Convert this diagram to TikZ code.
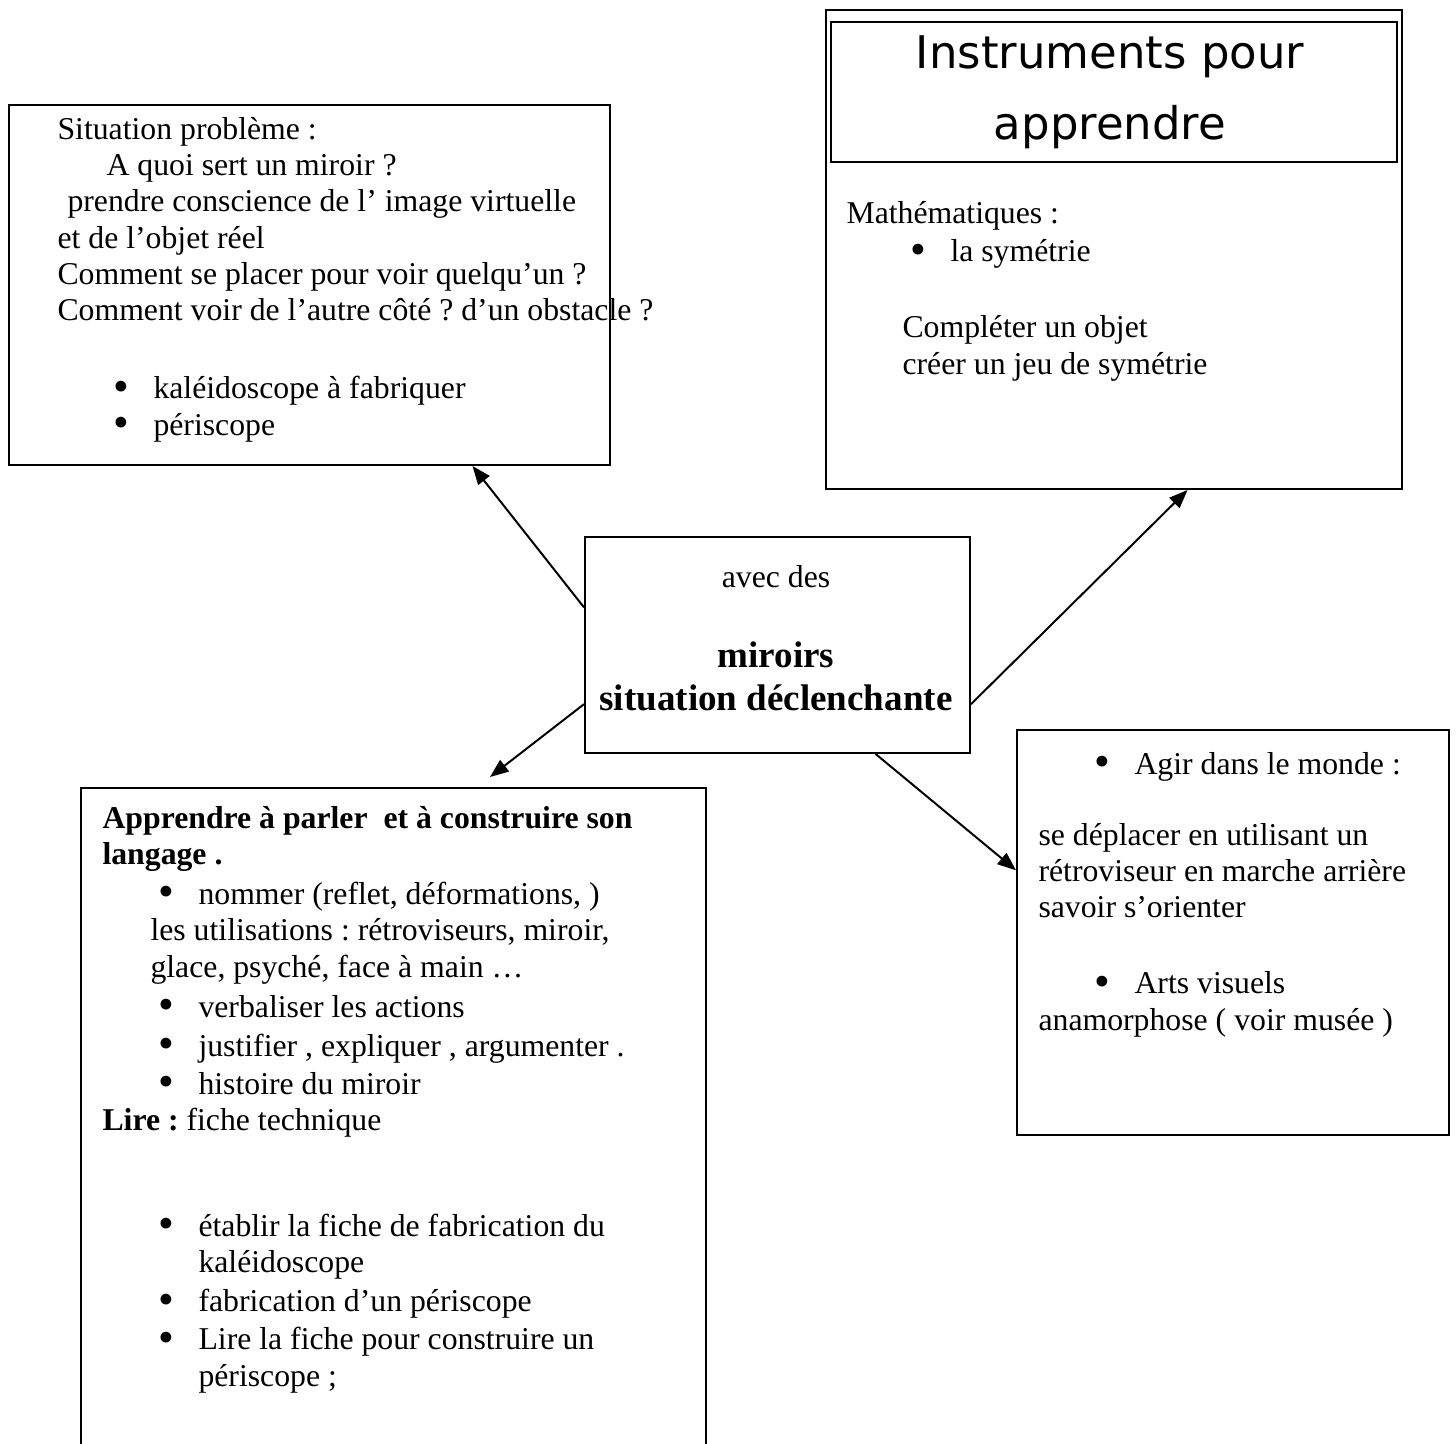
\documentclass[tikz,border=0pt]{standalone}
\usepackage{fontspec}
\setmainfont{Liberation Serif}
\newfontfamily\titrefont{DejaVu Sans}
\usetikzlibrary{arrows.meta}
\frenchspacing

\newdimen\unitpx
\unitpx=0.378pt
\newcommand{\puce}[1]{\hspace*{#1\unitpx}\makebox[40\unitpx][l]{\smash{\raisebox{-0.9pt}{\fontsize{17}{0}\selectfont\textbullet}}}}

\begin{document}
\begin{tikzpicture}[x=\unitpx,y=-\unitpx]
    \tikzstyle{boite}=[draw=black,line width=0.75pt,inner sep=0pt]
    \tikzstyle{texte}=[anchor=base west,align=left,inner sep=0pt,font=\fontsize{12}{13.72}\selectfont]
    \tikzstyle{fleche}=[line width=0.75pt,-{Triangle[length=7pt,width=5.4pt]}]
    \useasboundingbox (0,0) rectangle (1456,1444);
    \clip (0,0) rectangle (1456,1444);

    % les cadres
    \node[boite,minimum width=601\unitpx,minimum height=360\unitpx] (sitpb) at (309.5,285) {};
    \node[boite,minimum width=576\unitpx,minimum height=479\unitpx] (instr) at (1114,249.5) {};
    \node[boite,minimum width=566\unitpx,minimum height=140\unitpx] (titre) at (1114,92) {};
    \node[boite,minimum width=385\unitpx,minimum height=216\unitpx] (centre) at (777.5,645) {};
    \node[boite,minimum width=625\unitpx,minimum height=712\unitpx] (langage) at (393.5,1144) {};
    \node[boite,minimum width=432\unitpx,minimum height=405\unitpx] (monde) at (1233,932.5) {};

    % les textes (ancres sur la ligne de base de la derniere ligne)
    \node[texte] (sitpb-txt) at (57,435) {Situation problème :\\
        \hspace*{49\unitpx}A quoi sert un miroir ?\\
        \hspace*{10\unitpx}prendre conscience de l’ image virtuelle\\
        et de l’objet réel\\
        Comment se placer pour voir quelqu’un ?\\
        Comment voir de l’autre côté ? d’un obstacle ?\\[41.7\unitpx]
        \puce{56}kaléidoscope à fabriquer\\
        \puce{56}périscope};

    \node[anchor=base,align=center,inner sep=0pt,font=\titrefont\fontsize{17}{27.2}\selectfont] (titre-txt) at (1110,140) {Instruments pour\\apprendre};

    \node[texte] (instr-txt) at (846,374) {Mathématiques :\\[1.7\unitpx]
        \puce{64}la symétrie\\[39.7\unitpx]
        \hspace*{56\unitpx}Compléter un objet\\
        \hspace*{56\unitpx}créer un jeu de symétrie};

    \node[anchor=base,inner sep=0pt,font=\fontsize{12}{13.72}\selectfont] (avec) at (776,587) {avec des};
    \node[anchor=base,align=center,inner sep=0pt,font=\bfseries\fontsize{14}{15.9}\selectfont] (miroirs) at (776,710) {miroirs\\situation déclenchante};

    \node[texte] (langage-txt) at (102,1386) {\textbf{Apprendre à parler\ \ et à construire son}\\
        \textbf{langage .}\\[3.7\unitpx]
        \puce{56}nommer (reflet, déformations, )\\
        \hspace*{48\unitpx}les utilisations : rétroviseurs, miroir,\\
        \hspace*{48\unitpx}glace, psyché, face à main …\\[3.7\unitpx]
        \puce{56}verbaliser les actions\\[2.7\unitpx]
        \puce{56}justifier , expliquer , argumenter .\\[1.7\unitpx]
        \puce{56}histoire du miroir\\
        \textbf{Lire :} fiche technique\\[69.7\unitpx]
        \puce{56}établir la fiche de fabrication du\\
        \hspace*{96\unitpx}kaléidoscope\\[2.7\unitpx]
        \puce{56}fabrication d’un périscope\\[1.7\unitpx]
        \puce{56}Lire la fiche pour construire un\\
        \hspace*{96\unitpx}périscope ;};

    \node[texte] (monde-txt) at (1038,1030) {\puce{56}Agir dans le monde :\\[34.7\unitpx]
        se déplacer en utilisant un\\
        rétroviseur en marche arrière\\
        savoir s’orienter\\[39.7\unitpx]
        \puce{56}Arts visuels\\
        anamorphose ( voir musée )};

    % les fleches
    \coordinate (pointe) at (490,777);
    \foreach \from/\to in {centre.169.1/sitpb.-48.8, centre.197.9/pointe, centre.-17.3/instr.-73.5, centre.-48.5/monde.164.35}
        \draw[fleche] (\from) -- (\to);
\end{tikzpicture}
\end{document}
